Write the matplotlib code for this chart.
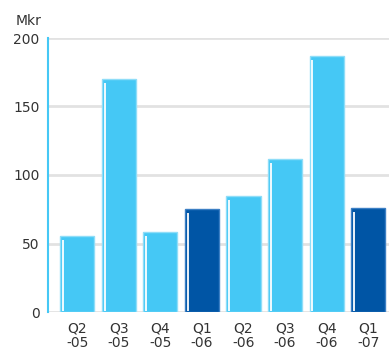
import matplotlib
matplotlib.use("Agg")
import matplotlib.pyplot as plt

categories = ["Q2\n-05", "Q3\n-05", "Q4\n-05", "Q1\n-06", "Q2\n-06", "Q3\n-06", "Q4\n-06", "Q1\n-07"]
values = [55.5, 170, 58.5, 75.5, 84.5, 112, 187, 76]
is_q1 = [False, False, False, True, False, False, False, True]
yticks = [0, 50, 100, 150, 200]

light = "#45C8F5"
dark = "#0055A5"
light_edge = "#8FDDF8"
dark_edge = "#3C7FC4"

fig = plt.figure(figsize=(3.89, 3.56), dpi=100)
ax = fig.add_axes([48/389, 1-312/356, 1-48/389, (312-38)/356])

x = list(range(len(categories)))
colors = [dark if q else light for q in is_q1]
edges = [dark_edge if q else light_edge for q in is_q1]
w = 0.82
ax.bar(x, values, width=w, color=colors, edgecolor=edges, linewidth=1.0, zorder=3)
for xi, v in zip(x, values):
    ax.vlines(xi - w/2 + 0.07, 0.5, v - 3, colors="white", linewidth=1.3, zorder=4)

ax.set_xlim(-0.7, 7.5)
ax.set_ylim(0, 200)
ax.set_yticks(yticks)
ax.set_xticks(x)
ax.set_xticklabels(categories, fontsize=10, color="#333333", linespacing=1.05)
ax.tick_params(axis="y", labelsize=10, colors="#333333", length=0, pad=6)
ax.tick_params(axis="x", length=0, pad=7)
ax.grid(axis="y", color="#e2e2e2", linewidth=2, zorder=0)
ax.set_axisbelow(True)
for s in ["top", "right", "bottom"]:
    ax.spines[s].set_visible(False)
ax.spines["left"].set_color(light)
ax.spines["left"].set_linewidth(1.5)

fig.text(29/389, 1-21/356, "Mkr", fontsize=10, color="#333333", ha="center", va="center")

fig.savefig("out.png", dpi=100)
